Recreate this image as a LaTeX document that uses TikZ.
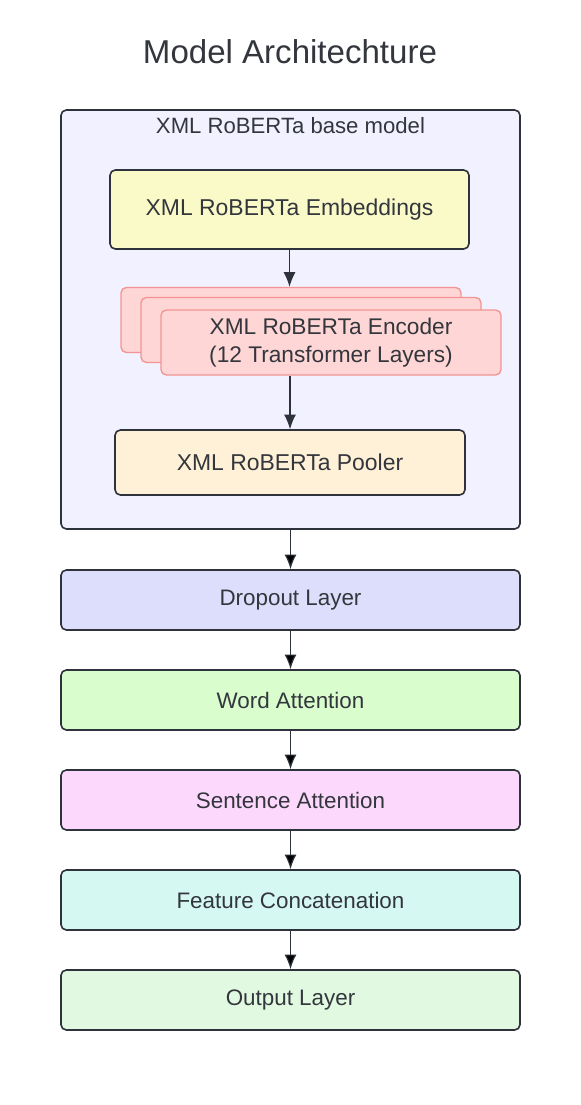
\documentclass[tikz,border=0pt]{standalone}
\usepackage{fontspec}
\setmainfont{Liberation Sans}
\usepackage{xcolor}
\usetikzlibrary{arrows.meta}
\usetikzlibrary{positioning}

\definecolor{linedark}{HTML}{2E323A}
\definecolor{textgray}{HTML}{33363C}
\definecolor{basefill}{HTML}{F1F1FF}
\definecolor{embfill}{HTML}{FAFAC8}
\definecolor{encfill}{HTML}{FFD6D6}
\definecolor{encline}{HTML}{F29494}
\definecolor{poolfill}{HTML}{FFF1D7}
\definecolor{dropfill}{HTML}{DDDEFB}
\definecolor{wordfill}{HTML}{DAFDCE}
\definecolor{sentfill}{HTML}{FDD8FD}
\definecolor{featfill}{HTML}{D5F8F2}
\definecolor{outfill}{HTML}{E1F9E1}

\begin{document}
\begin{tikzpicture}[x=0.75pt,y=-0.75pt,node distance=75pt,
	>={Latex[width=9pt,length=11pt]},
    layer/.style = {rectangle, rounded corners=4pt, draw=linedark, line width=1.2pt,
                   minimum width=344.25pt, minimum height=45pt,
                   text centered, text=textgray, font=\fontsize{16.8}{20}\selectfont},
    inner/.style = {layer, minimum height=48.75pt, font=\fontsize{17.2}{20}\selectfont},
    encbox/.style = {inner, draw=encline, line width=1pt, fill=encfill,
                   minimum width=255pt, align=center,
                   font=\fontsize{17}{21}\selectfont}]
  \fill[white] (0,0) rectangle (581,1105);
  \useasboundingbox (0,0) rectangle (581,1105);

  \node (title) [text=textgray, font=\fontsize{24.8}{30}\selectfont] at (290,52) {Model Architechture};

  % base model container
  \node (base) [layer, fill=basefill, minimum height=314.25pt] at (290.5,319.5) {};
  \node (basetitle) [text=textgray, font=\fontsize{16.6}{20}\selectfont] at (290.5,126) {XML RoBERTa base model};
  \node (emb) [inner, fill=embfill, minimum width=269.25pt, minimum height=59.25pt] at (289.5,209.5) {XML RoBERTa Embeddings};
  \node (enc3) [encbox] at (291,320) {};
  \node (enc2) [encbox] at (311,330) {};
  \node (enc1) [encbox] at (331,342.5) {XML RoBERTa Encoder\\(12 Transformer Layers)};
  \node (pool) [inner, fill=poolfill, minimum width=262.5pt] at (290,462.5) {XML RoBERTa Pooler};

  % classifier layers
  \node (drop) [layer, fill=dropfill] at (290.5,600) {Dropout Layer};
  \node (word) [layer, fill=wordfill, below of=drop] {Word Attention};
  \node (sent) [layer, fill=sentfill, below of=word] {Sentence Attention};
  \node (feat) [layer, fill=featfill, below of=sent] {Feature Concatenation};
  \node (out) [layer, fill=outfill, below of=feat] {Output Layer};

  \draw[->,draw=linedark,line width=0.9pt]
    (emb.south) -- (emb.south |- enc3.north);
  \draw[->,draw=linedark,line width=0.9pt]
    (pool.north |- enc1.south) -- (pool.north);

  \path[->,draw=linedark,line width=0.9pt]
    (base) edge (drop)
    (drop) edge (word)
    (word) edge (sent)
    (sent) edge (feat)
    (feat) edge (out);
\end{tikzpicture}
\end{document}
